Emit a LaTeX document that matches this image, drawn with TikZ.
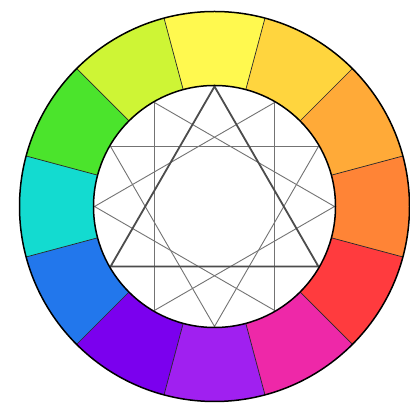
\documentclass[tikz,border=0pt]{standalone}
\definecolor{c90}{HTML}{FFF94F}
\definecolor{c60}{HTML}{FFD53E}
\definecolor{c30}{HTML}{FFAA38}
\definecolor{c0}{HTML}{FF8436}
\definecolor{cm30}{HTML}{FF3B3E}
\definecolor{cm60}{HTML}{EE28A8}
\definecolor{cm90}{HTML}{A020F0}
\definecolor{cm120}{HTML}{7B00EE}
\definecolor{cm150}{HTML}{2277EC}
\definecolor{c180}{HTML}{13DBD0}
\definecolor{c150}{HTML}{4BE42C}
\definecolor{c120}{HTML}{CEF535}
\begin{document}
\begin{tikzpicture}[x=1pt,y=1pt,
  divider/.style={draw=black!85,line width=0.7pt},
  rim/.style={draw=black,line width=1.5pt},
  thinline/.style={draw=black!55,line width=0.9pt},
  thickline/.style={draw=black!70,line width=1.8pt,line join=miter}]
\useasboundingbox (0,0) rectangle (410,406);
\fill[white] (0,0) rectangle (410,406);
\coordinate (C) at (214.5,199.5);
\def\Ro{195}
\def\Ri{121}
\foreach \a/\c in {90/c90,60/c60,30/c30,0/c0,-30/cm30,-60/cm60,-90/cm90,-120/cm120,-150/cm150,180/c180,150/c150,120/c120}{
  \fill[\c] ([shift={(\a-15:\Ro)}]C) arc[start angle=\a-15,end angle=\a+15,radius=\Ro]
    -- ([shift={(\a+15:\Ri)}]C) arc[start angle=\a+15,end angle=\a-15,radius=\Ri] -- cycle;
}
\foreach \a in {15,45,...,345}{
  \draw[divider] ([shift={(\a:\Ri)}]C) -- ([shift={(\a:\Ro)}]C);
}
\fill[white] (C) circle[radius=\Ri];
\foreach \k in {0,...,11}{
  \coordinate (p\k) at ([shift={(90+30*\k:\Ri-1)}]C);
}
% thin triangles
\draw[thinline] (p1) -- (p5) -- (p9) -- cycle;
\draw[thinline] (p2) -- (p6) -- (p10) -- cycle;
\draw[thinline] (p3) -- (p7) -- (p11) -- cycle;
% thick triangle
\draw[thickline] (p0) -- (p4) -- (p8) -- cycle;
\draw[rim] (C) circle[radius=\Ri];
\draw[rim] (C) circle[radius=\Ro];
\end{tikzpicture}
\end{document}
